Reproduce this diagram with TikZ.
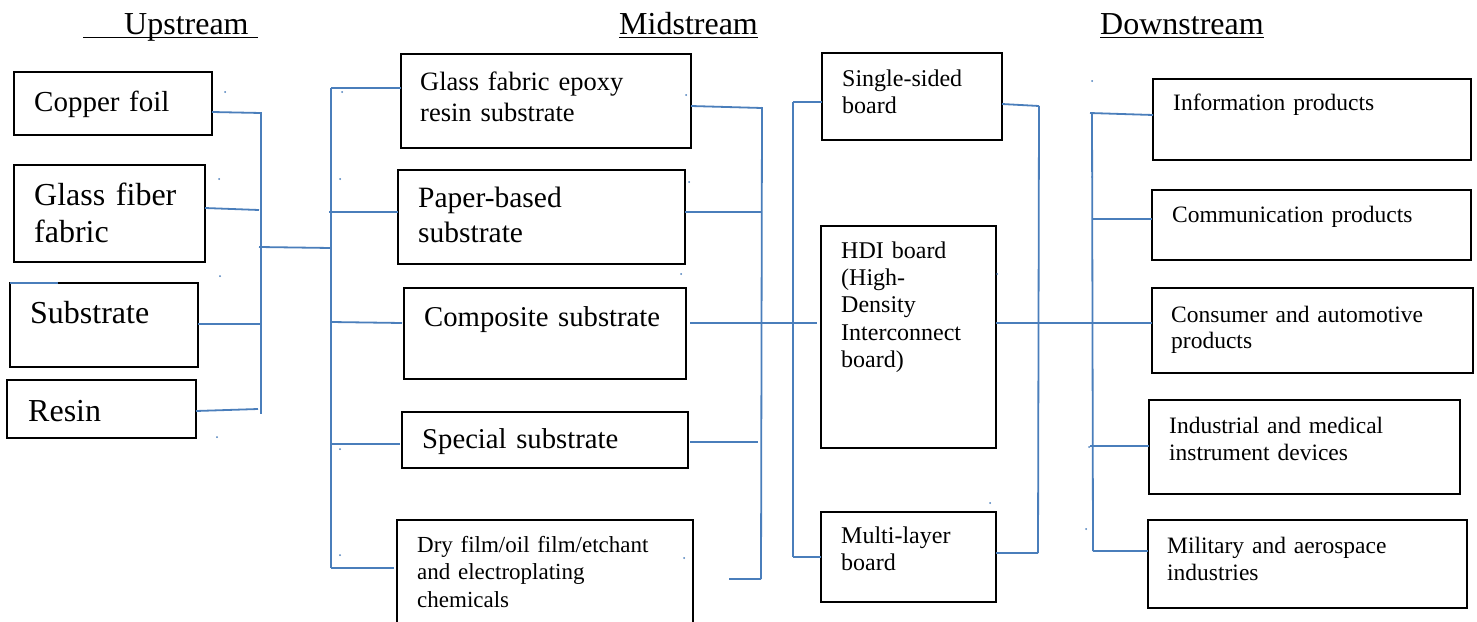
\documentclass[tikz,border=0pt]{standalone}
\usepackage{fontspec}
\setmainfont{Liberation Serif}
\usetikzlibrary{fit}
\definecolor{linkblue}{HTML}{4A7EBB}
% heading text with a rule under the whole box (spaces included)
\newcommand{\headul}[1]{\setbox0\hbox{#1}\rlap{\rule[-4pt]{\wd0}{1.5pt}}\box0}
\begin{document}
\begin{tikzpicture}[x=1pt,y=-1pt,
  box/.style={draw=black, line width=2pt, inner sep=0pt, outer sep=0pt},
  lbl/.style={anchor=base west, inner sep=0pt, text width=400pt, align=left},
  hd/.style={anchor=base west, inner sep=0pt, font=\fontsize{32}{36}\selectfont},
  link/.style={draw=linkblue, line width=1.8pt},
  fs/.style 2 args={font=\fontsize{#1}{#2}\selectfont}
]
\fill[white] (0,0) rectangle (1477,621);
\useasboundingbox (0,0) rectangle (1477,621);

% ---- column headings
\node[hd] (h-up)   at (83,34)   {\headul{\hspace{41pt}Upstream\hspace{9pt}}};
\node[hd] (h-mid)  at (619,34)  {\headul{Midstream}};
\node[hd] (h-down) at (1100,34) {\headul{Downstream}};

% ---- upstream materials
\node[box, fit={(14,72)(212,135)}]  (cu) {};
\node[lbl, fs={29}{34}] (cu-t) at (34,111) {Copper foil};
\node[box, fit={(14,165)(205,262)}] (gf) {};
\node[lbl, fs={32}{37}]  (gf-t) at (34,205) {Glass fiber\\fabric};
\node[box, fit={(10,283)(198,367)}] (sb) {};
\node[lbl, fs={32}{37}]  (sb-t) at (30,323) {Substrate};
\node[box, fit={(7,380)(196,438)}]  (rs) {};
\node[lbl, fs={32}{37}]  (rs-t) at (28,421) {Resin};

% ---- midstream substrates
\node[box, fit={(401,54)(691,148)}]  (ge) {};
\node[lbl, fs={26.5}{31}] (ge-t) at (420,90)  {Glass fabric epoxy\\resin substrate};
\node[box, fit={(398,170)(685,264)}] (pb) {};
\node[lbl, fs={29.5}{35}] (pb-t) at (418,207) {Paper-based\\substrate};
\node[box, fit={(404,288)(686,379)}] (cs) {};
\node[lbl, fs={28.7}{33}] (cs-t) at (424,326) {Composite substrate};
\node[box, fit={(402,412)(688,468)}] (ss) {};
\node[lbl, fs={28.7}{33}] (ss-t) at (422,448) {Special substrate};
\node[box, fit={(397,520)(693,632)}] (df) {};
\node[lbl, fs={23}{27.5}] (df-t) at (417,552) {Dry film/oil film/etchant\\and electroplating\\chemicals};

% ---- midstream boards
\node[box, fit={(822,53)(1002,140)}]  (sd) {};
\node[lbl, fs={24}{27.2}] (sd-t) at (842,86)  {Single-sided\\board};
\node[box, fit={(821,226)(996,448)}]  (hdi) {};
\node[lbl, fs={24}{27.4}] (hdi-t) at (841,258) {HDI board\\(High-\\Density\\Interconnect\\board)};
\node[box, fit={(821,512)(996,602)}]  (ml) {};
\node[lbl, fs={24}{27.4}] (ml-t) at (841,543) {Multi-layer\\board};

% ---- downstream applications
\node[box, fit={(1153,79)(1471,160)}]  (ip) {};
\node[lbl, fs={23.5}{26.8}] (ip-t) at (1173,110) {Information products};
\node[box, fit={(1152,190)(1471,260)}] (cp) {};
\node[lbl, fs={23.5}{26.8}] (cp-t) at (1172,222) {Communication products};
\node[box, fit={(1152,288)(1473,373)}] (ca) {};
\node[lbl, fs={23.5}{26.8}] (ca-t) at (1171,322) {Consumer and automotive\\products};
\node[box, fit={(1149,400)(1460,494)}] (im) {};
\node[lbl, fs={23.5}{27.4}] (im-t) at (1169,433) {Industrial and medical\\instrument devices};
\node[box, fit={(1148,520)(1467,608)}] (ma) {};
\node[lbl, fs={23.5}{27}] (ma-t) at (1167,553) {Military and aerospace\\industries};

% ---- bus lines (x positions)
\coordinate (uB) at (261,0);
\coordinate (mL) at (331,0);
\coordinate (mR) at (762,0);
\coordinate (bL) at (793,0);
\coordinate (bR) at (1038,0);
\coordinate (dB) at (1092,0);

% upstream -> collector
\draw[link] (uB |- 0,112) -- (uB |- 0,414);
\draw[link] (cu.east |- 0,112) -- (uB |- 0,113);
\draw[link] (gf.east |- 0,208) -- ([xshift=-2pt]uB |- 0,210);
\draw[link] (sb.east |- 0,324) -- (uB |- 0,324);
\draw[link] (rs.east |- 0,411) -- ([xshift=-3pt]uB |- 0,409);
\draw[link] ([xshift=-2pt]uB |- 0,247) -- (mL |- 0,248);
\draw[link] (sb.north west) -- ([xshift=48pt]sb.north west);

% collector -> substrates
\draw[link] (mL |- 0,88) -- (mL |- 0,568);
\draw[link] (mL |- 0,88)  -- (ge.west |- 0,88);
\draw[link] ([xshift=-2pt]mL |- 0,212) -- (pb.west |- 0,212);
\draw[link] (mL |- 0,322) -- ([xshift=-2pt]cs.west |- 0,323);
\draw[link] (mL |- 0,444) -- ([xshift=-2pt]ss.west |- 0,444);
\draw[link] (mL |- 0,568) -- ([xshift=-3pt]df.west |- 0,568);

% substrates -> collector
\draw[link] (mR |- 0,107) -- ([xshift=-1pt]mR |- 0,579);
\draw[link] (ge.east |- 0,106) -- (mR |- 0,108);
\draw[link] (pb.east |- 0,212) -- (mR |- 0,212);
\draw[link] ([xshift=2pt]ss.east |- 0,442) -- ([xshift=-4pt]mR |- 0,442);
\coordinate (dfo) at (729,579);
\draw[link] (dfo) -- ([xshift=-1pt]mR |- 0,579);

% composite substrate straight through to the HDI board
\draw[link] ([xshift=4pt]cs.east |- 0,323) -- ([xshift=-4pt]hdi.west |- 0,323);

% collector -> boards
\draw[link] (bL |- 0,102) -- (bL |- 0,557);
\draw[link] (bL |- 0,102) -- (sd.west |- 0,102);
\draw[link] (bL |- 0,557) -- (ml.west |- 0,557);

% boards -> collector
\draw[link] (sd.east |- 0,104) -- ([xshift=1pt]bR |- 0,106);
\draw[link] ([xshift=1pt]bR |- 0,106) -- (bR |- 0,553);
\draw[link] (ml.east |- 0,553) -- (bR |- 0,553);

% HDI board straight through to consumer products
\draw[link] (hdi.east |- 0,323) -- (ca.west |- 0,323);

% collector -> applications
\draw[link] (dB |- 0,113) -- ([xshift=1pt]dB |- 0,551);
\draw[link] ([xshift=-2pt]dB |- 0,113) -- (ip.west |- 0,115);
\draw[link] (dB |- 0,219) -- (cp.west |- 0,219);
\draw[link] ([xshift=-2pt]dB |- 0,446) -- (im.west |- 0,446);
\draw[link] ([xshift=1pt]dB |- 0,551) -- (ma.west |- 0,551);

% stray connector handles
\foreach \p in {(225,92),(219,179),(220,276),(217,437),(342,92),(340,179),
                (340,449),(340,555),(686,95),(689,182),(681,274),(684,558),
                (997,274),(990,503),(1092,81),(1092,177),(1089,447),(1086,529)}
  \fill[linkblue] \p circle (1pt);
\end{tikzpicture}
\end{document}
